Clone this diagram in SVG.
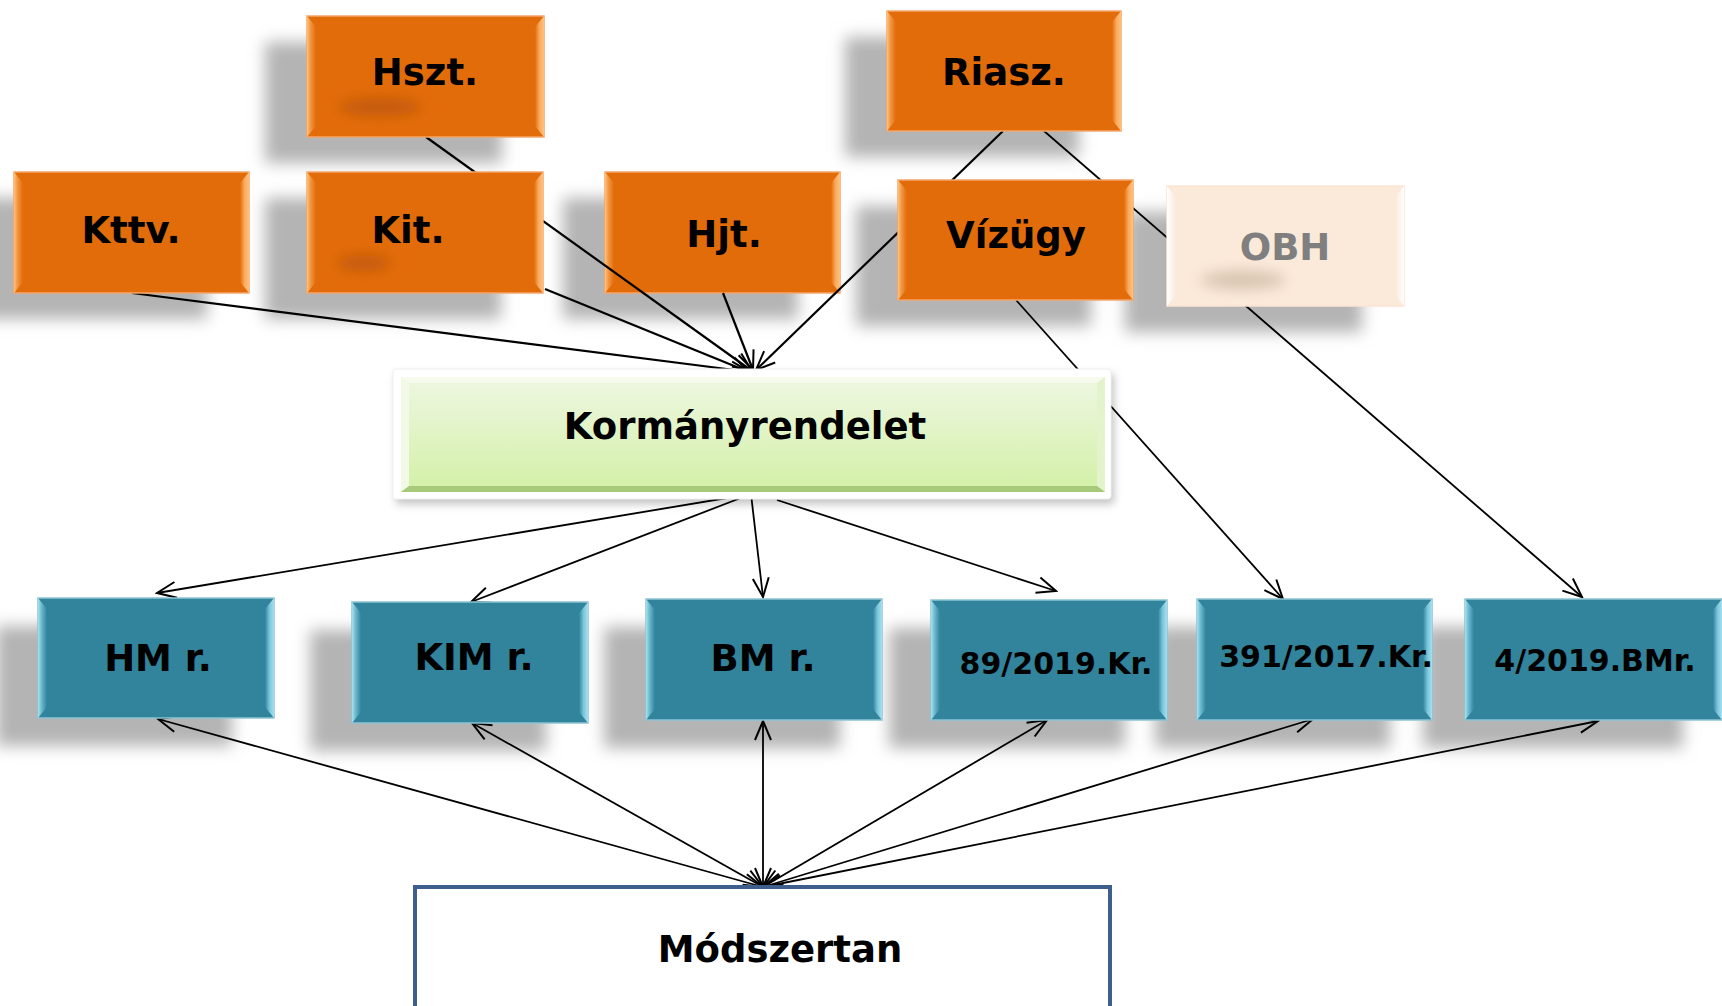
<svg xmlns="http://www.w3.org/2000/svg" width="1722" height="1006" viewBox="0 0 1722 1006">
<style>
text{font-family:"DejaVu Sans","Verdana",sans-serif;font-weight:bold;text-anchor:middle;fill:#000}
.big{font-size:37px}
.code{font-size:30px}
.or{fill:#E36C0A;stroke:#F4A56A;stroke-width:1.5}
.orL{fill:url(#gOrL)}
.orR{fill:url(#gOrR)}
.te{fill:#31849B;stroke:#8CC4D4;stroke-width:1.5}
.teL{fill:url(#gTeL)}
.teR{fill:url(#gTeR)}
.sh{fill:#b4b4b4;filter:url(#blur)}
.blob{filter:url(#blob)}
.ln{fill:none;stroke:#000;stroke-width:2.2}
.ln2{fill:none;stroke:#000;stroke-width:1.8}
</style>
<defs>
<filter id="blur" x="-30%" y="-30%" width="160%" height="160%"><feGaussianBlur stdDeviation="8"/></filter>
<filter id="blob" x="-50%" y="-100%" width="200%" height="300%"><feGaussianBlur stdDeviation="7"/></filter>
<filter id="kshadow" x="-10%" y="-20%" width="120%" height="140%"><feGaussianBlur stdDeviation="4"/></filter>
<linearGradient id="gOrL" x1="0" y1="0" x2="1" y2="0"><stop offset="0" stop-color="#FFC27F"/><stop offset="0.35" stop-color="#F29A45"/><stop offset="1" stop-color="#E36C0A"/></linearGradient>
<linearGradient id="gOrR" x1="0" y1="0" x2="1" y2="0"><stop offset="0" stop-color="#E36C0A"/><stop offset="0.5" stop-color="#FBAA5C"/><stop offset="1" stop-color="#FFC27F"/></linearGradient>
<linearGradient id="gTeL" x1="0" y1="0" x2="1" y2="0"><stop offset="0" stop-color="#A8E0EE"/><stop offset="0.4" stop-color="#6CB9CF"/><stop offset="1" stop-color="#31849B"/></linearGradient>
<linearGradient id="gTeR" x1="0" y1="0" x2="1" y2="0"><stop offset="0" stop-color="#31849B"/><stop offset="0.5" stop-color="#78C6DB"/><stop offset="1" stop-color="#A8E0EE"/></linearGradient>
<linearGradient id="gObL" x1="0" y1="0" x2="1" y2="0"><stop offset="0" stop-color="#FFFFFF"/><stop offset="1" stop-color="#FBE9DA"/></linearGradient>
<linearGradient id="gObR" x1="0" y1="0" x2="1" y2="0"><stop offset="0" stop-color="#FBE9DA"/><stop offset="1" stop-color="#FFFFFF"/></linearGradient>
<linearGradient id="gGreen" x1="0" y1="0" x2="0" y2="1"><stop offset="0" stop-color="#EEF7E2"/><stop offset="1" stop-color="#D3F0A6"/></linearGradient>
<marker id="ah" markerUnits="userSpaceOnUse" markerWidth="24" markerHeight="20" viewBox="0 0 24 20" refX="22" refY="10" orient="auto-start-reverse">
<path d="M3,2 L22,10 L3,18" fill="none" stroke="#000" stroke-width="2"/>
</marker>
</defs>
<rect width="1722" height="1006" fill="#fff"/>
<g id="shadows">
<rect class="sh" x="265" y="42" width="237" height="121"/>
<rect class="sh" x="845" y="37" width="234" height="120"/>
<rect class="sh" x="-28" y="198" width="235" height="121"/>
<rect class="sh" x="265" y="198" width="236" height="121"/>
<rect class="sh" x="563" y="198" width="235" height="121"/>
<rect class="sh" x="856" y="206" width="235" height="120"/>
<rect class="sh" x="1125" y="212" width="237" height="120"/>
<rect class="sh" x="-4" y="626" width="236" height="120"/>
<rect class="sh" x="310" y="630" width="236" height="121"/>
<rect class="sh" x="604" y="627" width="236" height="121"/>
<rect class="sh" x="889" y="628" width="236" height="120"/>
<rect class="sh" x="1155" y="627" width="235" height="121"/>
<rect class="sh" x="1423" y="627" width="260" height="121"/>
<rect x="396" y="374" width="718" height="130" fill="#9a9a9a" opacity="0.6" filter="url(#kshadow)"/>
</g>
<g id="hjt">
<rect class="or" x="605" y="172" width="235" height="121"/>
<path class="orL" d="M605,172 L614,183 L614,282 L605,293 Z"/>
<path class="orR" d="M840,172 L831,183 L831,282 L840,293 Z"/>
<text class="big" x="724" y="247">Hjt.</text>
</g>
<g id="connectors">
<line class="ln" x1="132" y1="293" x2="750" y2="372" marker-end="url(#ah)"/>
<line class="ln" x1="426" y1="137" x2="752" y2="371" marker-end="url(#ah)"/>
<line class="ln" x1="545" y1="289" x2="749" y2="372" marker-end="url(#ah)"/>
<line class="ln" x1="723" y1="293" x2="753" y2="370" marker-end="url(#ah)"/>
<line class="ln" x1="1003" y1="131" x2="756" y2="370" marker-end="url(#ah)"/>
<line class="ln2" x1="1044" y1="131" x2="1582" y2="597" marker-end="url(#ah)"/>
<line class="ln2" x1="1016" y1="300" x2="1283" y2="599" marker-end="url(#ah)"/>
<line class="ln2" x1="751" y1="494" x2="157" y2="593" marker-end="url(#ah)"/>
<line class="ln2" x1="751" y1="494" x2="471" y2="602" marker-end="url(#ah)"/>
<line class="ln2" x1="751" y1="494" x2="763" y2="597" marker-end="url(#ah)"/>
<line class="ln2" x1="777" y1="500" x2="1056" y2="591" marker-end="url(#ah)"/>
<line class="ln2" x1="763" y1="887" x2="158" y2="719" marker-start="url(#ah)" marker-end="url(#ah)"/>
<line class="ln2" x1="763" y1="887" x2="472" y2="723" marker-start="url(#ah)" marker-end="url(#ah)"/>
<line class="ln2" x1="763" y1="887" x2="763" y2="721" marker-start="url(#ah)" marker-end="url(#ah)"/>
<line class="ln2" x1="763" y1="887" x2="1047" y2="720" marker-start="url(#ah)" marker-end="url(#ah)"/>
<line class="ln2" x1="763" y1="887" x2="1313" y2="719" marker-start="url(#ah)" marker-end="url(#ah)"/>
<line class="ln2" x1="763" y1="887" x2="1598" y2="721" marker-start="url(#ah)" marker-end="url(#ah)"/>
</g>
<g id="hszt">
<rect class="or" x="307" y="16" width="237" height="121"/>
<path class="orL" d="M307,16 L316,27 L316,126 L307,137 Z"/>
<path class="orR" d="M544,16 L535,27 L535,126 L544,137 Z"/>
<ellipse class="blob" cx="380" cy="107" rx="42" ry="9" fill="#C25A08"/>
<text class="big" x="425" y="85">Hszt.</text>
</g>
<g id="riasz">
<rect class="or" x="887" y="11" width="234" height="120"/>
<path class="orL" d="M887,11 L896,22 L896,120 L887,131 Z"/>
<path class="orR" d="M1121,11 L1112,22 L1112,120 L1121,131 Z"/>
<text class="big" x="1004" y="85">Riasz.</text>
</g>
<g id="kttv">
<rect class="or" x="14" y="172" width="235" height="121"/>
<path class="orL" d="M14,172 L23,183 L23,282 L14,293 Z"/>
<path class="orR" d="M249,172 L240,183 L240,282 L249,293 Z"/>
<text class="big" x="131" y="243">Kttv.</text>
</g>
<g id="kit">
<rect class="or" x="307" y="172" width="236" height="121"/>
<path class="orL" d="M307,172 L316,183 L316,282 L307,293 Z"/>
<path class="orR" d="M543,172 L534,183 L534,282 L543,293 Z"/>
<ellipse class="blob" cx="364" cy="263" rx="28" ry="8" fill="#C25A08"/>
<text class="big" x="408" y="243">Kit.</text>
</g>
<g id="vizugy">
<rect class="or" x="898" y="180" width="235" height="120"/>
<path class="orL" d="M898,180 L907,191 L907,289 L898,300 Z"/>
<path class="orR" d="M1133,180 L1124,191 L1124,289 L1133,300 Z"/>
<text class="big" x="1016" y="248">Vízügy</text>
</g>
<g id="obh">
<rect x="1167" y="186" width="237" height="120" fill="#FBE9DA" stroke="#FDE3D3" stroke-width="1.5"/>
<path d="M1167,186 L1176,197 L1176,295 L1167,306 Z" fill="url(#gObL)"/>
<path d="M1404,186 L1395,197 L1395,295 L1404,306 Z" fill="url(#gObR)"/>
<ellipse class="blob" cx="1243" cy="280" rx="42" ry="9" fill="#D6C2AE"/>
<text class="big" x="1285" y="260" style="fill:#7F7F7F">OBH</text>
</g>
<g id="kormanyrendelet">
<rect x="393" y="369" width="718" height="130" rx="3" fill="#fff" stroke="#f0f0f0" stroke-width="1"/>
<rect x="401" y="377" width="704" height="115" fill="url(#gGreen)"/>
<path d="M401,377 L1105,377 L1097,383 L409,383 Z" fill="#F6FBEE"/>
<path d="M401,377 L409,383 L409,486 L401,492 Z" fill="#F2F9E6"/>
<path d="M1105,377 L1097,383 L1097,486 L1105,492 Z" fill="#E3F3CB"/>
<path d="M401,492 L409,486 L1097,486 L1105,492 Z" fill="#A7C97A"/>
<text class="big" x="745" y="439">Kormányrendelet</text>
</g>
<g id="hm">
<rect class="te" x="38" y="598" width="236" height="120"/>
<path class="teL" d="M38,598 L47,609 L47,707 L38,718 Z"/>
<path class="teR" d="M274,598 L265,609 L265,707 L274,718 Z"/>
<text class="big" x="158" y="671">HM r.</text>
</g>
<g id="kim">
<rect class="te" x="352" y="602" width="236" height="121"/>
<path class="teL" d="M352,602 L361,613 L361,712 L352,723 Z"/>
<path class="teR" d="M588,602 L579,613 L579,712 L588,723 Z"/>
<text class="big" x="474" y="670">KIM r.</text>
</g>
<g id="bm">
<rect class="te" x="646" y="599" width="236" height="121"/>
<path class="teL" d="M646,599 L655,610 L655,709 L646,720 Z"/>
<path class="teR" d="M882,599 L873,610 L873,709 L882,720 Z"/>
<text class="big" x="763" y="671">BM r.</text>
</g>
<g id="kr89">
<rect class="te" x="931" y="600" width="236" height="120"/>
<path class="teL" d="M931,600 L940,611 L940,709 L931,720 Z"/>
<path class="teR" d="M1167,600 L1158,611 L1158,709 L1167,720 Z"/>
<text class="code" x="1056" y="674">89/2019.Kr.</text>
</g>
<g id="kr391">
<rect class="te" x="1197" y="599" width="235" height="121"/>
<path class="teL" d="M1197,599 L1206,610 L1206,709 L1197,720 Z"/>
<path class="teR" d="M1432,599 L1423,610 L1423,709 L1432,720 Z"/>
<text class="code" x="1326" y="667">391/2017.Kr.</text>
</g>
<g id="bmr4">
<rect class="te" x="1465" y="599" width="260" height="121"/>
<path class="teL" d="M1465,599 L1474,610 L1474,709 L1465,720 Z"/>
<path class="teR" d="M1722,599 L1713,610 L1713,709 L1722,720 Z"/>
<text class="code" x="1595" y="671">4/2019.BMr.</text>
</g>
<g id="modszertan">
<rect x="415" y="887" width="695" height="140" fill="#fff" stroke="#3E5F8C" stroke-width="4"/>
<text class="big" x="780" y="962">Módszertan</text>
</g>
</svg>
